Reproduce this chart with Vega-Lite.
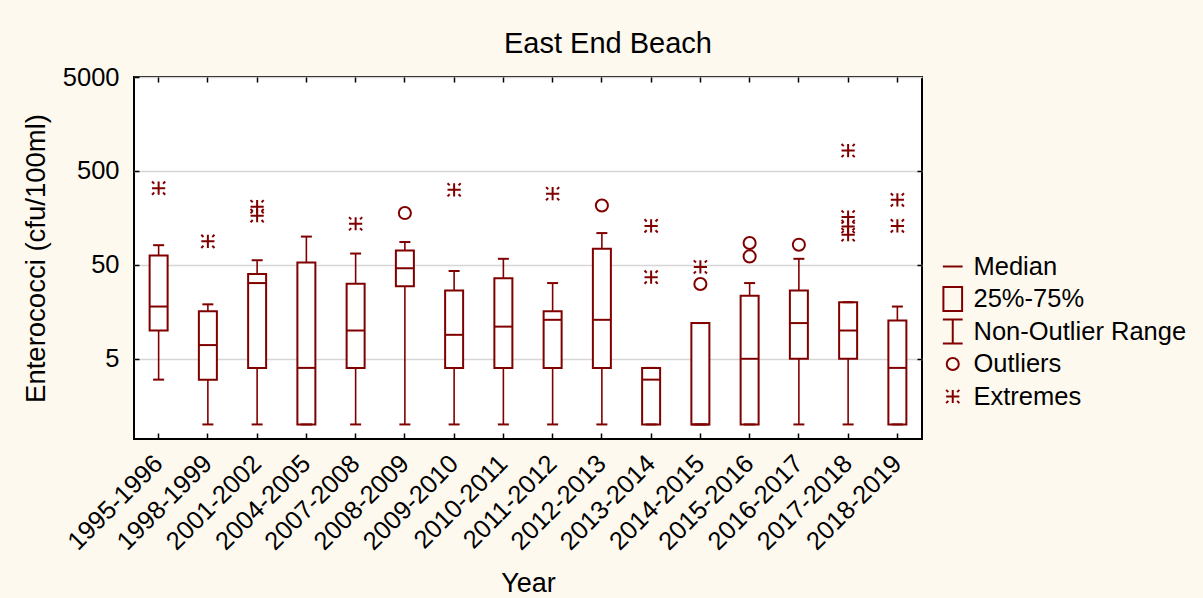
{
  "$schema": "https://vega.github.io/schema/vega-lite/v6.json",
  "width": 788,
  "height": 362,
  "autosize": {"type": "none"},
  "padding": {"left": 134, "top": 77, "right": 281, "bottom": 159},
  "background": "#fef9ef",
  "view": {"fill": "white", "stroke": "black", "strokeWidth": 2},
  "title": {"text": "East End Beach", "fontSize": 29, "fontWeight": "normal", "color": "black", "font": "Liberation Sans", "anchor": "middle", "frame": "group", "dx": 80, "baseline": "alphabetic", "offset": -17},
  "datasets": {
    "boxes": [
      {"year": "1995-1996", "lo": 3, "q1": 10, "med": 18, "q3": 63, "hi": 81},
      {"year": "1998-1999", "lo": 1, "q1": 3, "med": 7, "q3": 16, "hi": 19},
      {"year": "2001-2002", "lo": 1, "q1": 4, "med": 32, "q3": 40, "hi": 56},
      {"year": "2004-2005", "lo": 1, "q1": 1, "med": 4, "q3": 53, "hi": 100},
      {"year": "2007-2008", "lo": 1, "q1": 4, "med": 10, "q3": 31.5, "hi": 66},
      {"year": "2008-2009", "lo": 1, "q1": 29.6, "med": 46, "q3": 71, "hi": 87.5},
      {"year": "2009-2010", "lo": 1, "q1": 4, "med": 9, "q3": 26.6, "hi": 43},
      {"year": "2010-2011", "lo": 1, "q1": 4, "med": 11, "q3": 36, "hi": 58},
      {"year": "2011-2012", "lo": 1, "q1": 4, "med": 13, "q3": 16, "hi": 32},
      {"year": "2012-2013", "lo": 1, "q1": 4, "med": 13, "q3": 74, "hi": 109},
      {"year": "2013-2014", "lo": 1, "q1": 1, "med": 3, "q3": 4, "hi": 4},
      {"year": "2014-2015", "lo": 1, "q1": 1, "med": 1, "q3": 12, "hi": 12},
      {"year": "2015-2016", "lo": 1, "q1": 1, "med": 5, "q3": 23.5, "hi": 32},
      {"year": "2016-2017", "lo": 1, "q1": 5, "med": 12, "q3": 26.6, "hi": 58},
      {"year": "2017-2018", "lo": 1, "q1": 5, "med": 10, "q3": 20, "hi": 20},
      {"year": "2018-2019", "lo": 1, "q1": 1, "med": 4, "q3": 12.8, "hi": 18}
    ],
    "points": [
      {"year": "1995-1996", "kind": "Extremes", "value": 328},
      {"year": "1998-1999", "kind": "Extremes", "value": 89},
      {"year": "2001-2002", "kind": "Extremes", "value": 208},
      {"year": "2001-2002", "kind": "Extremes", "value": 167},
      {"year": "2007-2008", "kind": "Extremes", "value": 137},
      {"year": "2008-2009", "kind": "Outliers", "value": 178},
      {"year": "2009-2010", "kind": "Extremes", "value": 315},
      {"year": "2011-2012", "kind": "Extremes", "value": 286},
      {"year": "2012-2013", "kind": "Outliers", "value": 214},
      {"year": "2013-2014", "kind": "Extremes", "value": 130},
      {"year": "2013-2014", "kind": "Extremes", "value": 37},
      {"year": "2014-2015", "kind": "Extremes", "value": 47.5},
      {"year": "2014-2015", "kind": "Outliers", "value": 31.3},
      {"year": "2015-2016", "kind": "Outliers", "value": 85.5},
      {"year": "2015-2016", "kind": "Outliers", "value": 61.5},
      {"year": "2016-2017", "kind": "Outliers", "value": 82},
      {"year": "2017-2018", "kind": "Extremes", "value": 824},
      {"year": "2017-2018", "kind": "Extremes", "value": 161.5},
      {"year": "2017-2018", "kind": "Extremes", "value": 128},
      {"year": "2017-2018", "kind": "Extremes", "value": 104.7},
      {"year": "2018-2019", "kind": "Extremes", "value": 246},
      {"year": "2018-2019", "kind": "Extremes", "value": 130}
    ]
  },
  "resolve": {"axis": {"x": "independent", "y": "independent"}},
  "layer": [
    {
      "data": {"name": "boxes"},
      "mark": {"type": "rule", "color": "#800000", "strokeWidth": 1.6},
      "encoding": {
        "x": {"field": "year", "type": "nominal", "sort": null,
              "scale": {"paddingInner": 0, "paddingOuter": 0},
              "axis": {"orient": "bottom", "title": "Year", "labelAngle": -45, "labelAlign": "right", "labelBaseline": "middle",
                       "labelFontSize": 25.5, "labelFont": "Liberation Sans", "labelColor": "black", "labelPadding": 26,
                       "titleFontSize": 27, "titleFont": "Liberation Sans", "titleFontWeight": "normal", "titleColor": "black", "titlePadding": 16,
                       "tickSize": -6, "tickColor": "black", "tickWidth": 1.5, "domain": false, "grid": false}},
        "y": {"field": "lo", "type": "quantitative",
              "scale": {"type": "log", "domain": [0.7, 5000], "nice": false},
              "axis": {"orient": "left", "title": "Enterococci (cfu/100ml)", "values": [5, 50, 500, 5000], "format": "d",
                       "labelFontSize": 25.5, "labelFont": "Liberation Sans", "labelColor": "black", "labelPadding": 20,
                       "titleFontSize": 27.5, "titleFont": "Liberation Sans", "titleFontWeight": "normal", "titleColor": "black", "titlePadding": 12,
                       "tickSize": -5, "tickColor": "black", "tickWidth": 1.5, "domain": false,
                       "grid": true, "gridColor": "#d6d6d6", "gridWidth": 1.5}},
        "y2": {"field": "hi"}
      }
    },
    {
      "data": {"name": "boxes"},
      "mark": {"type": "bar", "size": 18, "fill": "white", "stroke": "#800000", "strokeWidth": 2},
      "encoding": {
        "x": {"field": "year", "type": "nominal", "sort": null, "axis": null},
        "y": {"field": "q1", "type": "quantitative", "axis": null},
        "y2": {"field": "q3"}
      }
    },
    {
      "data": {"name": "boxes"},
      "mark": {"type": "tick", "size": 18, "thickness": 2, "color": "#800000", "opacity": 1},
      "encoding": {
        "x": {"field": "year", "type": "nominal", "sort": null, "axis": null},
        "y": {"field": "med", "type": "quantitative", "axis": null}
      }
    },
    {
      "data": {"name": "boxes"},
      "mark": {"type": "tick", "size": 11, "thickness": 2, "color": "#800000", "opacity": 1},
      "encoding": {
        "x": {"field": "year", "type": "nominal", "sort": null, "axis": null},
        "y": {"field": "lo", "type": "quantitative", "axis": null}
      }
    },
    {
      "data": {"name": "boxes"},
      "mark": {"type": "tick", "size": 11, "thickness": 2, "color": "#800000", "opacity": 1},
      "encoding": {
        "x": {"field": "year", "type": "nominal", "sort": null, "axis": null},
        "y": {"field": "hi", "type": "quantitative", "axis": null}
      }
    },
    {
      "data": {"name": "points"},
      "mark": {"type": "point", "filled": false, "color": "#800000", "strokeWidth": 2, "size": 484, "opacity": 1},
      "encoding": {
        "x": {"field": "year", "type": "nominal", "sort": null,
              "axis": {"orient": "top", "labels": false, "title": null, "tickSize": -5, "tickColor": "black", "tickWidth": 1.5, "domain": false, "grid": false}},
        "y": {"field": "value", "type": "quantitative",
              "axis": {"orient": "right", "labels": false, "title": null, "values": [5, 50, 500], "tickSize": -5, "tickColor": "black", "tickWidth": 1.5, "domain": false, "grid": false}},
        "shape": {"field": "kind", "type": "nominal",
                  "scale": {"domain": ["Median", "25%-75%", "Non-Outlier Range", "Outliers", "Extremes"],
                            "range": ["M-0.9,0H0.9",
                                      "M-0.85,-1.1H0.85V1.1H-0.85Z",
                                      "M-0.9,-1.1H0.9M0,-1.1V1.1M-0.9,1.1H0.9",
                                      "M0.55,0A0.55,0.55,0,1,1,-0.55,0A0.55,0.55,0,1,1,0.55,0",
                                      "M-0.6,0H0.6M0,-0.6V0.6M-0.6,-0.6L-0.4,-0.4M0.6,-0.6L0.4,-0.4M-0.6,0.6L-0.4,0.4M0.6,0.6L0.4,0.4"]},
                  "legend": {"title": null, "orient": "none", "legendX": 806, "legendY": 176, "padding": 0,
                             "labelFontSize": 25.5, "labelFont": "Liberation Sans", "labelColor": "black", "labelOffset": 8, "labelLimit": 0,
                             "symbolSize": 484, "symbolStrokeWidth": 2, "symbolStrokeColor": "#800000", "symbolFillColor": "transparent", "symbolOpacity": 1,
                             "clipHeight": 27, "rowPadding": 5.5}}
      }
    }
  ]
}
